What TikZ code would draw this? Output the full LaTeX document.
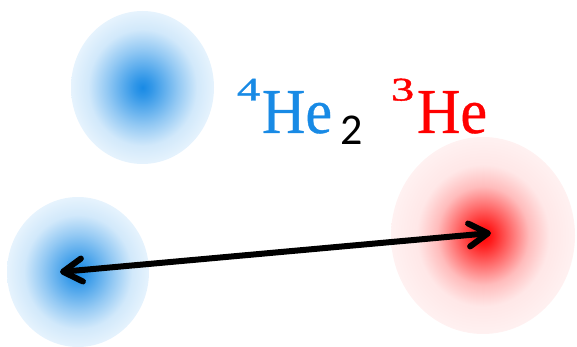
\documentclass[tikz,border=0pt]{standalone}
\usepackage{fontspec}
\setmainfont{Liberation Serif}
\newfontfamily\subfont{Carlito}
\newfontfamily\supfont[FakeBold=1.2]{Liberation Serif}
\newfontfamily\hefont[FakeBold=0.6]{Liberation Serif}
\usetikzlibrary{arrows.meta,shapes.geometric}
\definecolor{hblue}{RGB}{24,138,229}
\definecolor{hred}{RGB}{255,0,0}
\definecolor{paleblue}{RGB}{230,243,253}
\definecolor{palered}{RGB}{255,241,241}
\pgfdeclareradialshading{blueblob}{\pgfpoint{0bp}{0bp}}{color(0bp)=(hblue); color(3bp)=(hblue!88!paleblue); color(12.5bp)=(hblue!40!paleblue); color(19bp)=(hblue!10!paleblue); color(25bp)=(paleblue); color(50bp)=(paleblue)}
\pgfdeclareradialshading{redblob}{\pgfpoint{0bp}{0bp}}{color(0bp)=(hred); color(2.5bp)=(hred!88!palered); color(7bp)=(hred!58!palered); color(12.5bp)=(hred!22!palered); color(18bp)=(hred!4!palered); color(25bp)=(palered); color(50bp)=(palered)}
\tikzset{
  blob/.style={ellipse, inner sep=0pt, draw=none},
  lbl/.style={anchor=base west, inner sep=0pt, outer sep=0pt},
  bigtxt/.style={lbl, font=\hefont\fontsize{64}{70}\selectfont},
  suptxt/.style={lbl, font=\supfont\fontsize{33}{36}\selectfont},
  subtxt/.style={lbl, font=\subfont\fontsize{44}{48}\selectfont},
  dist/.style={line width=6pt, {Straight Barb[length=19pt,width=23pt,round]}-{Straight Barb[length=19pt,width=23pt,round]}}
}
\begin{document}
\begin{tikzpicture}[x=1pt,y=-1pt]
\useasboundingbox (0,0) rectangle (577,347);
\node[blob, minimum width=143pt, minimum height=153pt, shading=blueblob] (b1) at (142.5,87.5) {};
\node[blob, minimum width=142pt, minimum height=150pt, shading=blueblob] (b2) at (78,272) {};
\node[blob, minimum width=184pt, minimum height=197pt, shading=redblob] (r) at (483,235.5) {};
\node[suptxt, text=hblue] (s4) at (237,100.5) {\scalebox{1.4}[1]{4}};
\node[bigtxt, text=hblue] (he4) at (262,133) {\scalebox{0.94}[1]{He}};
\node[subtxt, text=black] (s2) at (340,145) {2};
\node[suptxt, text=hred] (s3) at (391,100.5) {\scalebox{1.4}[1]{3}};
\node[bigtxt, text=hred] (he3) at (417,133) {\scalebox{0.94}[1]{He}};
\coordinate (a1) at (60,272);
\coordinate (a2) at (491,233);
\draw[dist] (a1) -- (a2);
\end{tikzpicture}
\end{document}
